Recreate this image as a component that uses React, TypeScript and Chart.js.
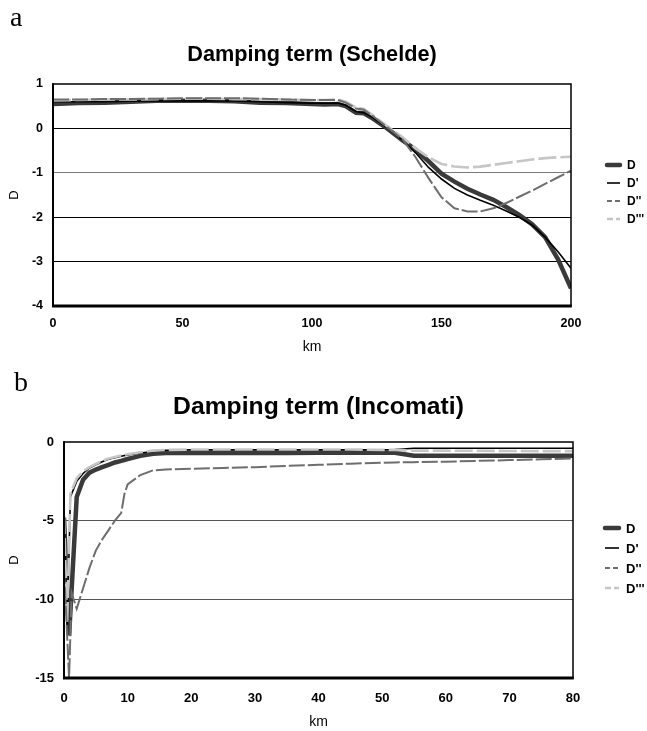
import React, { useEffect, useRef } from "react";
import { Chart, registerables } from "chart.js";

Chart.register(...registerables);

// ---------- Data: (a) Schelde ----------
const schKm = [0, 10, 20, 30, 40, 50, 60, 70, 80, 90, 100, 105, 110, 113, 117, 120, 123, 129, 135, 140, 145, 150, 155, 160, 165, 170, 175, 180, 185, 190, 195, 200];
const schD = [0.55, 0.57, 0.58, 0.6, 0.62, 0.62, 0.62, 0.61, 0.58, 0.57, 0.55, 0.54, 0.55, 0.5, 0.35, 0.34, 0.24, 0.0, -0.27, -0.48, -0.74, -1.02, -1.2, -1.36, -1.49, -1.61, -1.77, -1.95, -2.16, -2.45, -2.95, -3.6];
const schD1 = [0.6, 0.6, 0.6, 0.61, 0.62, 0.62, 0.62, 0.62, 0.6, 0.58, 0.57, 0.57, 0.57, 0.52, 0.38, 0.35, 0.26, 0.02, -0.27, -0.55, -0.88, -1.14, -1.35, -1.5, -1.62, -1.73, -1.86, -2.0, -2.18, -2.45, -2.78, -3.15];
const schD2 = [0.65, 0.65, 0.66, 0.66, 0.67, 0.68, 0.68, 0.68, 0.67, 0.65, 0.64, 0.64, 0.64, 0.58, 0.45, 0.42, 0.3, 0.03, -0.25, -0.65, -1.12, -1.55, -1.8, -1.87, -1.87, -1.8, -1.68, -1.54, -1.4, -1.25, -1.1, -0.95];
const schD3 = [0.63, 0.64, 0.65, 0.65, 0.66, 0.67, 0.67, 0.66, 0.66, 0.65, 0.64, 0.64, 0.65, 0.6, 0.47, 0.44, 0.32, 0.05, -0.2, -0.45, -0.65, -0.8, -0.86, -0.88, -0.86, -0.82, -0.78, -0.74, -0.7, -0.67, -0.65, -0.64];

// ---------- Data: (b) Incomati ----------
const incKm = [0, 0.5, 0.8, 1, 1.2, 2, 3, 4, 5, 6, 7, 8, 9, 9.5, 10, 12, 14, 16, 20, 25, 30, 35, 40, 45, 50, 52, 55, 60, 65, 70, 75, 80];
const incD = [-4.8, null, -12.3, null, null, -3.5, -2.4, -1.95, -1.75, -1.6, -1.45, -1.3, -1.2, null, -1.08, -0.88, -0.75, -0.7, -0.7, -0.7, -0.7, -0.7, -0.69, -0.68, -0.68, -0.68, -0.87, -0.87, -0.87, -0.87, -0.87, -0.87];
const incD1 = [-4.7, -12.0, null, -3.5, null, -2.5, -2.0, -1.65, -1.45, -1.25, -1.1, -1.0, -0.9, null, -0.82, -0.7, -0.6, -0.52, -0.5, -0.5, -0.5, -0.5, -0.5, -0.5, -0.5, -0.48, -0.4, -0.4, -0.4, -0.4, -0.4, -0.4];
const incD2 = [-8.0, null, -15.0, null, -9.6, -10.6, -9.3, -8.0, -6.9, -6.2, -5.6, -5.0, -4.5, -3.3, -2.7, -2.1, -1.8, -1.75, -1.7, -1.65, -1.6, -1.52, -1.45, -1.38, -1.32, -1.3, -1.28, -1.25, -1.2, -1.15, -1.1, -1.05];
const incD3 = [-4.7, -11.5, null, -3.3, null, -2.3, -1.85, -1.6, -1.4, -1.2, -1.05, -0.95, -0.85, null, -0.78, -0.65, -0.55, -0.5, -0.48, -0.48, -0.48, -0.48, -0.48, -0.48, -0.5, -0.5, -0.55, -0.55, -0.56, -0.57, -0.58, -0.58];

const seriesLabels = ["D", "D'", "D''", "D'''"];
const titles = ["Damping term (Schelde)", "Damping term (Incomati)"];

const FONT = "'Liberation Sans', Arial, Helvetica, sans-serif";

const styles = [
  { color: "#3a3a3a", width: 4.5, dash: [] as number[] },
  { color: "#000000", width: 1.6, dash: [] as number[] },
  { color: "#6e6e6e", width: 2, dash: [16, 3] },
  { color: "#c6c6c6", width: 2.6, dash: [18, 4] },
];

function pts(xs: number[], ys: (number | null)[]) {
  return xs.map((x, i) => ({ x, y: ys[i] }));
}

const decorPlugin = {
  id: "decor",
  afterDatasetsDraw(chart: any, _args: any, opts: any) {
    const { ctx, chartArea } = chart;
    const { left, right, top, bottom } = chartArea;
    ctx.save();
    ctx.strokeStyle = "#000";
    ctx.setLineDash([]);
    ctx.lineWidth = 1.5;
    ctx.strokeRect(left, top, right - left, bottom - top);
    ctx.lineWidth = 2;
    ctx.beginPath();
    ctx.moveTo(left, top - 0.75);
    ctx.lineTo(left, bottom);
    ctx.stroke();
    ctx.lineWidth = 3;
    ctx.beginPath();
    ctx.moveTo(left - 1, bottom);
    ctx.lineTo(right + 0.75, bottom);
    ctx.stroke();
    ctx.restore();
  },
  afterDraw(chart: any, _args: any, opts: any) {
    const { ctx, chartArea } = chart;
    const { left, right } = chartArea;
    ctx.save();
    ctx.fillStyle = "#000";
    ctx.font = `bold ${opts.titleSize}px ${FONT}`;
    ctx.textAlign = "center";
    ctx.textBaseline = "alphabetic";
    ctx.fillText(opts.title, (left + right) / 2, opts.titleBaseline);
    // legend
    chart.data.datasets.forEach((ds: any, i: number) => {
      const y = opts.legendTop + i * opts.legendGap;
      ctx.strokeStyle = ds.borderColor;
      ctx.lineWidth = ds.borderWidth;
      ctx.lineCap = i === 0 ? "round" : "butt";
      ctx.setLineDash(i === 2 ? [5, 3] : i === 3 ? [6, 3] : []);
      ctx.beginPath();
      ctx.moveTo(opts.legendX1, y);
      ctx.lineTo(opts.legendX2, y);
      ctx.stroke();
      ctx.setLineDash([]);
      ctx.fillStyle = "#000";
      ctx.font = `bold ${opts.legendSize}px ${FONT}`;
      ctx.textAlign = "left";
      ctx.textBaseline = "middle";
      ctx.fillText(ds.label, opts.legendTextX, y + 1);
    });
    ctx.restore();
  },
};

type Cfg = {
  width: number;
  height: number;
  xs: number[];
  series: (number | null)[][];
  xMin: number;
  xMax: number;
  xStep: number;
  yMin: number;
  yMax: number;
  yStep: number;
  padTop: number;
  padRight: number;
  yWidth: number;
  xHeight: number;
  xTickPad: number;
  kmPadBottom: number;
  tickSize: number;
  gridColor: (v: number) => string;
  decor: any;
};

function LineChart({ cfg }: { cfg: Cfg }) {
  const ref = useRef<HTMLCanvasElement | null>(null);
  useEffect(() => {
    if (!ref.current) return;
    const datasets = cfg.series.map((ys, i) => ({
      label: seriesLabels[i],
      data: pts(cfg.xs, ys),
      borderColor: styles[i].color,
      backgroundColor: styles[i].color,
      borderWidth: styles[i].width,
      borderDash: styles[i].dash,
      pointRadius: 0,
      tension: 0,
      spanGaps: true,
      fill: false,
    }));
    const order = [3, 2, 0, 1];
    datasets.forEach((d: any, i) => (d.order = order[i]));
    const chart = new Chart(ref.current, {
      type: "line",
      data: { datasets },
      plugins: [decorPlugin],
      options: {
        animation: false,
        responsive: false,
        devicePixelRatio: 1,
        layout: { padding: { top: cfg.padTop, right: cfg.padRight, bottom: 0, left: 0 } },
        plugins: {
          legend: { display: false },
          title: { display: false },
          tooltip: { enabled: false },
          decor: cfg.decor,
        } as any,
        scales: {
          x: {
            type: "linear",
            min: cfg.xMin,
            max: cfg.xMax,
            afterFit: (s: any) => {
              s.height = cfg.xHeight;
            },
            grid: { display: false, drawTicks: false },
            border: { display: false },
            ticks: {
              stepSize: cfg.xStep,
              color: "#000",
              padding: cfg.xTickPad,
              maxRotation: 0,
              font: { family: FONT, size: cfg.tickSize, weight: "bold" },
            },
            title: {
              display: true,
              text: "km",
              color: "#000",
              font: { family: FONT, size: 14, weight: "normal" },
              padding: { top: 0, bottom: cfg.kmPadBottom },
            },
          },
          y: {
            type: "linear",
            min: cfg.yMin,
            max: cfg.yMax,
            afterFit: (s: any) => {
              s.width = cfg.yWidth;
            },
            grid: {
              drawTicks: false,
              lineWidth: 1,
              color: (c: any) => cfg.gridColor(c.tick ? c.tick.value : 0),
            },
            border: { display: false },
            ticks: {
              stepSize: cfg.yStep,
              color: "#000",
              padding: 10,
              font: { family: FONT, size: cfg.tickSize, weight: "bold" },
            },
            title: {
              display: true,
              text: "D",
              color: "#000",
              font: { family: FONT, size: 13, weight: "normal" },
              padding: { top: 7, bottom: 0 },
            },
          },
        },
      } as any,
    });
    return () => chart.destroy();
  }, [cfg]);
  return <canvas ref={ref} width={cfg.width} height={cfg.height} style={{ display: "block", width: cfg.width, height: cfg.height }} />;
}

const cfgA: Cfg = {
  width: 647,
  height: 360,
  xs: schKm,
  series: [schD, schD1, schD2, schD3],
  xMin: 0,
  xMax: 200,
  xStep: 50,
  yMin: -4,
  yMax: 1,
  yStep: 1,
  padTop: 84,
  padRight: 76,
  yWidth: 53,
  xHeight: 54,
  xTickPad: 10,
  kmPadBottom: 4,
  tickSize: 12.5,
  gridColor: (v) => (v === 1 || v === -4 ? "rgba(0,0,0,0)" : v === -1 ? "#7a7a7a" : "#000"),
  decor: {
    title: titles[0],
    titleSize: 21.7,
    titleBaseline: 61,
    legendTop: 165,
    legendGap: 18,
    legendX1: 607,
    legendX2: 620,
    legendTextX: 627,
    legendSize: 12,
  },
};

const cfgB: Cfg = {
  width: 647,
  height: 366,
  xs: incKm,
  series: [incD, incD1, incD2, incD3],
  xMin: 0,
  xMax: 80,
  xStep: 10,
  yMin: -15,
  yMax: 0,
  yStep: 5,
  padTop: 77,
  padRight: 74,
  yWidth: 64,
  xHeight: 53,
  xTickPad: 13,
  kmPadBottom: 0,
  tickSize: 13,
  gridColor: (v) => (v === 0 || v === -15 ? "rgba(0,0,0,0)" : "#555"),
  decor: {
    title: titles[1],
    titleSize: 24.7,
    titleBaseline: 49,
    legendTop: 163,
    legendGap: 20,
    legendX1: 605,
    legendX2: 619,
    legendTextX: 626,
    legendSize: 13,
  },
};

export default function App() {
  const letter: React.CSSProperties = {
    position: "absolute",
    fontFamily: "'Liberation Serif', 'Times New Roman', serif",
    fontSize: 28,
    lineHeight: "28px",
    color: "#000",
  };
  return (
    <div style={{ position: "absolute", left: 0, top: 0, width: 647, height: 731, background: "#fff", overflow: "hidden" }}>
      <div style={{ position: "absolute", left: 0, top: 0 }}>
        <LineChart cfg={cfgA} />
      </div>
      <div style={{ position: "absolute", left: 0, top: 365 }}>
        <LineChart cfg={cfgB} />
      </div>
      <span style={{ ...letter, left: 10, top: 3 }}>a</span>
      <span style={{ ...letter, left: 14, top: 368 }}>b</span>
    </div>
  );
}
